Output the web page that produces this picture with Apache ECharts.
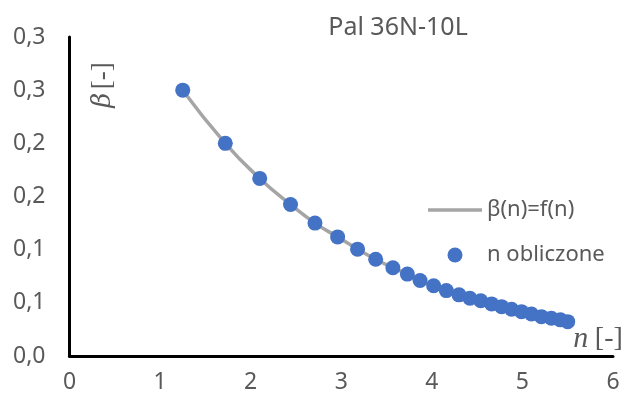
<!DOCTYPE html>
<html>
<head>
<meta charset="utf-8">
<script src="https://cdn.jsdelivr.net/npm/echarts@6/dist/echarts.min.js"></script>
<style>
  html, body { margin: 0; padding: 0; background: #fff; }
  #chart { width: 630px; height: 400px; }
</style>
</head>
<body>
<div id="chart"></div>
<script>
// Relative load n against coefficient beta for pile 36N-10L
const titleText = 'Pal 36N-10L';
const nValues = [1.25, 1.72, 2.10, 2.44, 2.71, 2.96, 3.18, 3.38, 3.57, 3.73, 3.87, 4.02, 4.16,
                 4.30, 4.42, 4.54, 4.66, 4.77, 4.88, 4.99, 5.10, 5.21, 5.32, 5.42, 5.50];
const betaValues = [0.250, 0.200, 0.167, 0.1425, 0.125, 0.112, 0.1005, 0.091, 0.083, 0.077, 0.071,
                    0.066, 0.0615, 0.0575, 0.0543, 0.052, 0.049, 0.0464, 0.044, 0.0417, 0.0395,
                    0.037, 0.0355, 0.034, 0.0323];
const yTickLabels = ['0,0', '0,1', '0,1', '0,2', '0,2', '0,3', '0,3'];
const xTickLabels = ['0', '1', '2', '3', '4', '5', '6'];
const seriesNames = ['β(n)=f(n)', 'n obliczone'];

const points = nValues.map((n, i) => [n, betaValues[i]]);
const gray = '#595959';
const font = 'Noto Sans';

const chart = echarts.init(document.getElementById('chart'), null, { renderer: 'canvas' });
chart.setOption({
  animation: false,
  backgroundColor: '#fff',
  title: {
    text: titleText,
    left: 393, top: 10, textAlign: 'center',
    textStyle: { fontFamily: font, fontSize: 25, fontWeight: 'normal', color: gray }
  },
  grid: { left: 69.5, right: 17, top: 37, bottom: 44, containLabel: false },
  legend: {
    orient: 'vertical',
    left: 423, top: 194,
    itemWidth: 54, itemHeight: 15, itemGap: 23,
    textStyle: { fontFamily: font, fontSize: 22, color: gray },
    data: [
      { name: seriesNames[0], icon: 'path://M0,0 L54,0 L54,3.5 L0,3.5 Z' },
      { name: seriesNames[1], icon: 'circle' }
    ]
  },
  xAxis: {
    type: 'value', min: 0, max: 6, interval: 1,
    axisLine: { show: true, lineStyle: { color: '#000', width: 3 } },
    axisTick: { show: false },
    splitLine: { show: false },
    axisLabel: {
      margin: 15, fontFamily: font, fontSize: 23, color: gray,
      formatter: v => xTickLabels[Math.round(v)]
    }
  },
  yAxis: {
    type: 'value', min: 0, max: 0.3, interval: 0.05,
    axisLine: { show: true, lineStyle: { color: '#000', width: 3 } },
    axisTick: { show: false },
    splitLine: { show: false },
    axisLabel: {
      margin: 24, fontFamily: font, fontSize: 23, color: gray,
      formatter: v => yTickLabels[Math.round(v / 0.05)]
    }
  },
  series: [
    {
      name: seriesNames[0], type: 'line', data: points, smooth: true,
      showSymbol: false, symbol: 'none',
      lineStyle: { color: '#A5A5A5', width: 3.5 },
      itemStyle: { color: '#A5A5A5' },
      z: 2
    },
    {
      name: seriesNames[1], type: 'scatter', data: points, symbolSize: 15,
      itemStyle: { color: '#4472C4', opacity: 1 },
      z: 3
    }
  ],
  graphic: [
    {
      type: 'text', x: 103, y: 85, rotation: Math.PI / 2, z: 10,
      style: {
        text: '{i|β} {u|[-]}',
        align: 'center', verticalAlign: 'middle',
        rich: {
          i: { fontFamily: 'DejaVu Serif', fontStyle: 'italic', fontSize: 26, fill: gray },
          u: { fontFamily: 'Liberation Serif', fontSize: 27, fill: gray }
        }
      }
    },
    {
      type: 'text', x: 598, y: 339, z: 10,
      style: {
        text: '{i|n}  {u|[-]}',
        align: 'center', verticalAlign: 'middle',
        rich: {
          i: { fontFamily: 'Liberation Serif', fontStyle: 'italic', fontSize: 30, fill: gray },
          u: { fontFamily: 'Liberation Serif', fontSize: 28, fill: gray }
        }
      }
    }
  ]
});
</script>
</body>
</html>
